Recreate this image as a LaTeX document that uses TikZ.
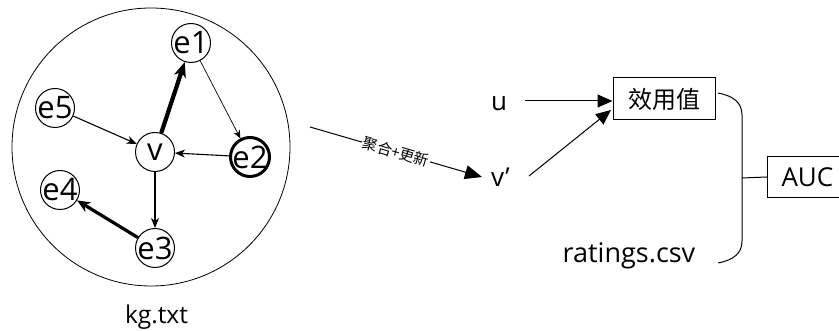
\documentclass[tikz,border=0pt]{standalone}
\usepackage{fontspec}
\setmainfont{Open Sans}
\newfontfamily\cjk{Noto Sans CJK SC}
\usetikzlibrary{arrows.meta}

\begin{document}
\begin{tikzpicture}[x=1pt,y=-1pt,
  big/.style={font=\fontsize{26}{26}\selectfont},
  enttext/.style={font=\fontsize{31}{31}\selectfont,inner sep=0pt},
  ent/.style={circle,draw,line width=1pt,minimum size=39pt,inner sep=0pt},
  thin/.style={line width=0.7pt,-{Stealth[length=8pt,width=7pt,inset=2.5pt]}},
  mid/.style={line width=1.1pt,-{Stealth[length=10pt,width=8pt,inset=3pt]}},
  heavy/.style={line width=3.2pt,-{Stealth[length=13pt,width=11pt,inset=4pt]}},
  heavier/.style={line width=4.2pt,-{Stealth[length=15pt,width=12pt,inset=4pt]}},
  flow/.style={line width=1pt,-{Triangle[length=15pt,width=13pt]}},
  box/.style={draw,line width=1pt,inner sep=0pt},
  lbl/.style={big,inner sep=0pt}
]
\useasboundingbox (0,0) rectangle (839,331);
\clip (0,0) rectangle (839,331);

% knowledge graph region
\draw[line width=0.8pt] (151,147) circle (139);
\node[ent,label={[enttext]center:e1}] (e1) at (191,43) {};
\node[ent,label={[enttext]center:e5}] (e5) at (55,108) {};
\node[ent,label={[enttext]center:v}] (v)  at (155,152) {};
\node[ent,line width=3pt,label={[enttext]center:e2}] (e2) at (250,157) {};
\node[ent,label={[enttext]center:e4}] (e4) at (60,190) {};
\node[ent,label={[enttext]center:e3}] (e3) at (155,248) {};

\draw[heavier] (v) -- (e1);
\draw[thin] (e1) -- (e2);
\draw[mid] (e5) -- (v);
\draw[mid] (e2) -- (v);
\draw[mid] (v) -- (e3);
\draw[heavy] (e3) -- (e4);

\node[lbl,anchor=base,font=\fontsize{24.5}{24.5}\selectfont] (kg) at (156.5,324) {kg.txt};

% aggregation step
\coordinate (aggS) at (310,127);
\node[lbl,anchor=base west] (vp) at (491,187) {v’};
\coordinate (aggE) at (482,177);
\draw[flow,-{Triangle[length=17pt,width=14pt]}] (aggS) -- node[sloped,fill=white,inner sep=1pt,font=\cjk\fontsize{15}{15}\selectfont] {聚合+更新} (aggE);

% utility and evaluation
\node[lbl,anchor=base west] (u) at (491,111) {u};
\node[box,minimum width=102pt,minimum height=42pt,font=\cjk\fontsize{24}{24}\selectfont] (util) at (664,99) {效用值};
\coordinate (uS) at (525,101);
\coordinate (vS) at (529,176);
\draw[flow] (uS) -- (util.west |- uS);
\draw[flow] (vS) -- (611,110);

\node[lbl,anchor=base,font=\fontsize{27}{27}\selectfont] (rat) at (629,263) {ratings.csv};

\draw[line width=1pt] (718,93) .. controls (734,96) and (742,103) .. (742,115)
  -- (742,241) .. controls (742,253) and (734,260) .. (718,263);
\node[box,anchor=west,minimum height=41pt,inner xsep=14pt,big] (auc) at (767,177) {AUC};
\draw[line width=1pt] (742,178) -- (auc.west);
\end{tikzpicture}
\end{document}
